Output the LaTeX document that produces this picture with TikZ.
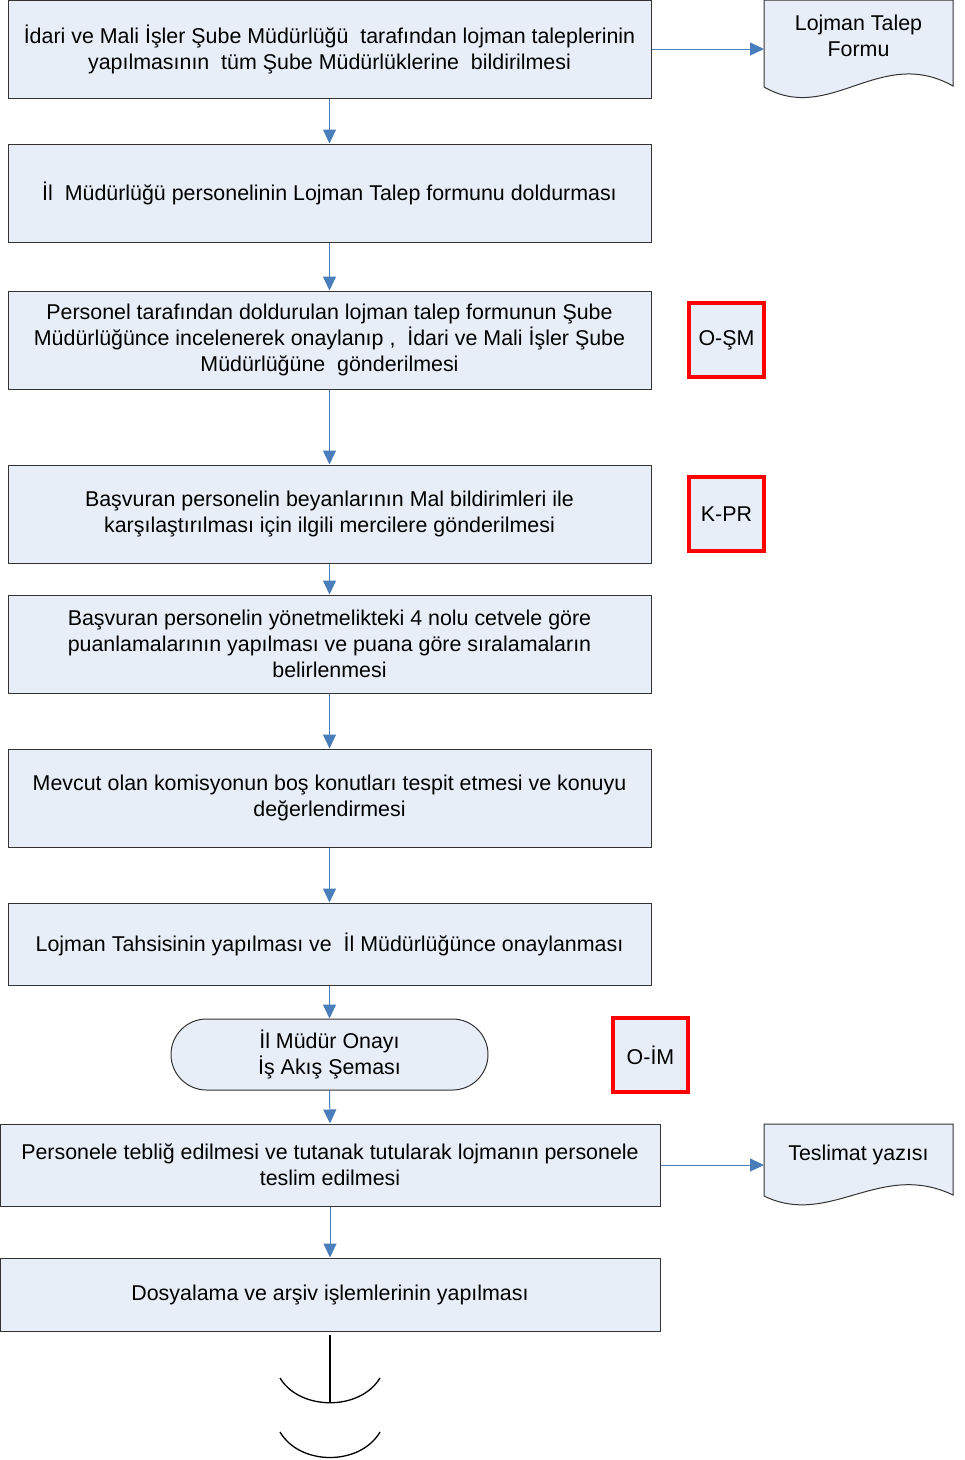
\documentclass[tikz,border=0pt]{standalone}
\usepackage{fontspec}
\setmainfont{Liberation Sans}
\usetikzlibrary{arrows.meta}
\definecolor{boxfill}{HTML}{E8EEF8}
\definecolor{arrowblue}{HTML}{4A7EBB}
\definecolor{edge}{HTML}{333333}
\tikzset{
  txt/.style={font=\fontsize{21.4}{26}\selectfont},
  procbox/.style={draw=edge, line width=1pt, fill=boxfill, rectangle, align=center, inner sep=0pt, txt},
  redbox/.style={draw=red, line width=3.2pt, fill=boxfill, rectangle, inner sep=0pt,
    minimum width=75pt, minimum height=74pt, txt},
  term/.style={draw=edge, line width=1pt, fill=boxfill, rectangle, rounded corners=35.5pt, align=center, inner sep=0pt, txt},
  flow/.style={draw=arrowblue, line width=1pt, -{Triangle[length=14pt,width=13pt]}},
  docshape/.style={draw=edge, line width=1pt, fill=boxfill},
  doctext/.style={align=center, txt},
  endline/.style={draw=black, line width=1.3pt}
}
\begin{document}
\begin{tikzpicture}[x=1pt,y=-1pt]
\useasboundingbox (0,0) rectangle (965,1460);
% process boxes
\node[procbox, minimum width=643pt, minimum height=98pt] (b1) at (329.5,49)
  {İdari ve Mali İşler Şube Müdürlüğü~ tarafından lojman taleplerinin\\yapılmasının~ tüm Şube Müdürlüklerine~ bildirilmesi};
\node[procbox, minimum width=643pt, minimum height=98pt] (b2) at (329.5,193)
  {İl~ Müdürlüğü personelinin Lojman Talep formunu doldurması};
\node[procbox, minimum width=643pt, minimum height=98pt] (b3) at (329.5,340)
  {Personel tarafından doldurulan lojman talep formunun Şube\\Müdürlüğünce incelenerek onaylanıp ,~ İdari ve Mali İşler Şube\\Müdürlüğüne~ gönderilmesi};
\node[procbox, minimum width=643pt, minimum height=98pt] (b4) at (329.5,514)
  {Başvuran personelin beyanlarının Mal bildirimleri ile\\karşılaştırılması için ilgili mercilere gönderilmesi};
\node[procbox, minimum width=643pt, minimum height=98pt] (b5) at (329.5,644)
  {Başvuran personelin yönetmelikteki 4 nolu cetvele göre\\puanlamalarının yapılması ve puana göre sıralamaların\\belirlenmesi};
\node[procbox, minimum width=643pt, minimum height=98pt] (b6) at (329.5,798)
  {Mevcut olan komisyonun boş konutları tespit etmesi ve konuyu\\değerlendirmesi};
\node[procbox, minimum width=643pt, minimum height=82pt] (b7) at (329.5,944)
  {Lojman Tahsisinin yapılması ve~ İl Müdürlüğünce onaylanması};
% terminator
\node[term, minimum width=317pt, minimum height=71pt] (t8) at (329.5,1054.5)
  {İl Müdür Onayı\\İş Akış Şeması};
\node[procbox, minimum width=660pt, minimum height=82pt] (b9) at (330,1165)
  {Personele tebliğ edilmesi ve tutanak tutularak lojmanın personele\\teslim edilmesi};
\node[procbox, minimum width=660pt, minimum height=73pt] (b10) at (330,1294.5)
  {Dosyalama ve arşiv işlemlerinin yapılması};
% red boxes
\node[redbox] (r1) at (726.5,340) {O-ŞM};
\node[redbox] (r2) at (726.5,514) {K-PR};
\node[redbox] (r3) at (650.5,1055) {O-İM};
% documents
\draw[docshape] (764,0) -- (953,0) -- (953,86) .. controls (880,45) and (830,125) .. (764,87) -- cycle;
\node[doctext] (d1) at (858.5,36) {Lojman Talep\\Formu};
\coordinate (d1w) at (764,49);
\draw[docshape] (764,1124) -- (953,1124) -- (953,1195) .. controls (880,1160) and (830,1228) .. (764,1196) -- cycle;
\node[doctext] (d2) at (858.5,1155) {Teslimat yazısı};
\coordinate (d2w) at (764,1165);
% flows
\draw[flow] (b1.south) -- (b2.north);
\draw[flow] (b2.south) -- (b3.north);
\draw[flow] (b3.south) -- (b4.north);
\draw[flow] (b4.south) -- (b5.north);
\draw[flow] (b5.south) -- (b6.north);
\draw[flow] (b6.south) -- (b7.north);
\draw[flow] (b7.south) -- (t8.north);
\draw[flow] (t8.south) -- (b9.north);
\draw[flow] (b9.south) -- (b10.north);
\draw[flow] (b1.east |- d1w) -- (d1w);
\draw[flow] (b9.east) -- (d2w);
% end symbol
\coordinate (e0) at (330,1335);
\coordinate (e1) at (330,1403);
\draw[endline] (e0) -- (e1);
\draw[endline] (280,1378) .. controls (300,1411) and (360,1411) .. (380,1378);
\draw[endline] (280,1432) .. controls (300,1466) and (360,1466) .. (380,1432);
\end{tikzpicture}
\end{document}
